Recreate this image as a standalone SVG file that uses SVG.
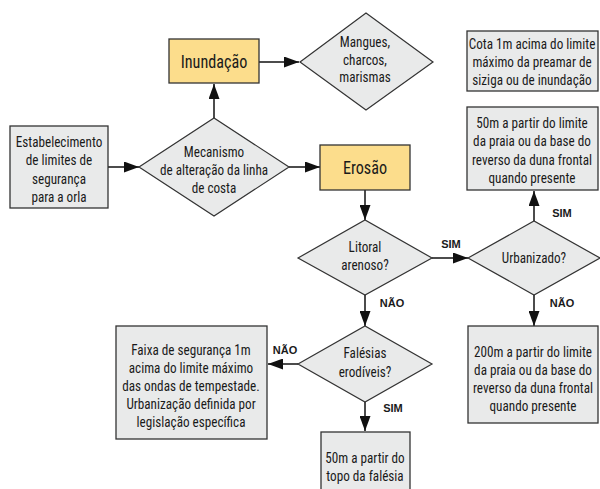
<svg xmlns="http://www.w3.org/2000/svg" width="600" height="489" viewBox="0 0 600 489">
<defs>
<marker id="ah" markerUnits="userSpaceOnUse" markerWidth="15" markerHeight="11" refX="15" refY="5.5" orient="auto">
<path d="M0,0 L15,5.5 L0,11 z" fill="#111"/>
</marker>
<style>
.box{fill:#e9eaea;stroke:#333;stroke-width:1.3}
.hl{fill:#fcdd8c;stroke:#333;stroke-width:1.3}
.dia{fill:#e9eaea;stroke:#333;stroke-width:1.2}
.t{font-family:"Liberation Sans Narrow","Roboto Condensed","DejaVu Sans Condensed","Liberation Sans",sans-serif;font-size:15.5px;fill:#1a1a1a;text-anchor:middle;transform-box:fill-box;transform-origin:center;transform:scaleX(0.85)}
.big{font-size:19px}
.lb{font-family:"Liberation Sans","DejaVu Sans",sans-serif;font-size:11px;font-weight:bold;fill:#1a1a1a;text-anchor:middle}
.c{fill:none;stroke:#111;stroke-width:1.5;marker-end:url(#ah)}
</style>
</defs>
<rect width="600" height="489" fill="#fff"/>
<g id="connectors">
<line class="c" x1="108" y1="167" x2="139" y2="167"/>
<line class="c" x1="214" y1="118" x2="214" y2="84"/>
<line class="c" x1="259" y1="62" x2="299" y2="62"/>
<line class="c" x1="289" y1="167" x2="320" y2="167"/>
<line class="c" x1="365" y1="190" x2="365" y2="220"/>
<line class="c" x1="432" y1="258" x2="468" y2="258"/>
<line class="c" x1="534" y1="221" x2="534" y2="191"/>
<line class="c" x1="534" y1="295" x2="534" y2="326"/>
<line class="c" x1="365" y1="295" x2="365" y2="326"/>
<line class="c" x1="298" y1="364" x2="268" y2="364"/>
<line class="c" x1="365" y1="402" x2="365" y2="431"/>
<text class="lb" x="451" y="248">SIM</text>
<text class="lb" x="562" y="217">SIM</text>
<text class="lb" x="562" y="307">NÃO</text>
<text class="lb" x="392" y="307">NÃO</text>
<text class="lb" x="285" y="354">NÃO</text>
<text class="lb" x="393" y="412">SIM</text>
</g>
<g id="estabelecimento">
<rect class="box" x="10" y="126" width="98" height="82"/>
<text class="t" x="59" y="147">Estabelecimento</text>
<text class="t" x="59" y="165.5">de limites de</text>
<text class="t" x="59" y="184">segurança</text>
<text class="t" x="59" y="202.5">para a orla</text>
</g>
<g id="mecanismo">
<polygon class="dia" points="139,167 214,118 289,167 214,216"/>
<text class="t" x="214" y="157">Mecanismo</text>
<text class="t" x="214" y="175">de alteração da linha</text>
<text class="t" x="214" y="193">de costa</text>
</g>
<g id="inundacao">
<rect class="hl" x="169" y="39" width="90" height="44"/>
<text class="t big" x="214" y="68">Inundação</text>
</g>
<g id="mangues">
<polygon class="dia" points="300,62 366,13 433,62 366,110"/>
<text class="t" x="365" y="47">Mangues,</text>
<text class="t" x="365" y="65">charcos,</text>
<text class="t" x="365" y="82">marismas</text>
</g>
<g id="erosao">
<rect class="hl" x="320" y="145" width="90" height="45"/>
<text class="t big" x="365" y="174">Erosão</text>
</g>
<g id="cota">
<rect class="box" x="467" y="31" width="131" height="60"/>
<text class="t" x="532" y="49">Cota 1m acima do limite</text>
<text class="t" x="532" y="67">máximo da preamar de</text>
<text class="t" x="532" y="85">siziga ou de inundação</text>
</g>
<g id="urbano50">
<rect class="box" x="467" y="107" width="131" height="83"/>
<text class="t" x="532" y="128">50m a partir do limite</text>
<text class="t" x="532" y="146.5">da praia ou da base do</text>
<text class="t" x="532" y="165">reverso da duna frontal</text>
<text class="t" x="532" y="183">quando presente</text>
</g>
<g id="litoral">
<polygon class="dia" points="298,258 365,220 432,258 365,295"/>
<text class="t" x="365" y="252">Litoral</text>
<text class="t" x="365" y="270">arenoso?</text>
</g>
<g id="urbanizado">
<polygon class="dia" points="468,258 534,221 600,258 534,295"/>
<text class="t" x="534" y="263">Urbanizado?</text>
</g>
<g id="naourbano200">
<rect class="box" x="468" y="326" width="130" height="97"/>
<text class="t" x="533" y="357">200m a partir do limite</text>
<text class="t" x="533" y="375">da praia ou da base do</text>
<text class="t" x="533" y="393">reverso da duna frontal</text>
<text class="t" x="533" y="411">quando presente</text>
</g>
<g id="falesias">
<polygon class="dia" points="298,364 365,326 432,364 365,402"/>
<text class="t" x="365" y="358">Falésias</text>
<text class="t" x="365" y="377">erodíveis?</text>
</g>
<g id="faixa">
<rect class="box" x="116" y="326" width="151" height="113"/>
<text class="t" x="191" y="355">Faixa de segurança 1m</text>
<text class="t" x="191" y="373">acima do limite máximo</text>
<text class="t" x="191" y="391">das ondas de tempestade.</text>
<text class="t" x="191" y="409">Urbanização definida por</text>
<text class="t" x="191" y="427">legislação específica</text>
</g>
<g id="falesia50">
<rect class="box" x="321" y="432" width="89" height="62"/>
<text class="t" x="365" y="463">50m a partir do</text>
<text class="t" x="365" y="481">topo da falésia</text>
</g>
</svg>
